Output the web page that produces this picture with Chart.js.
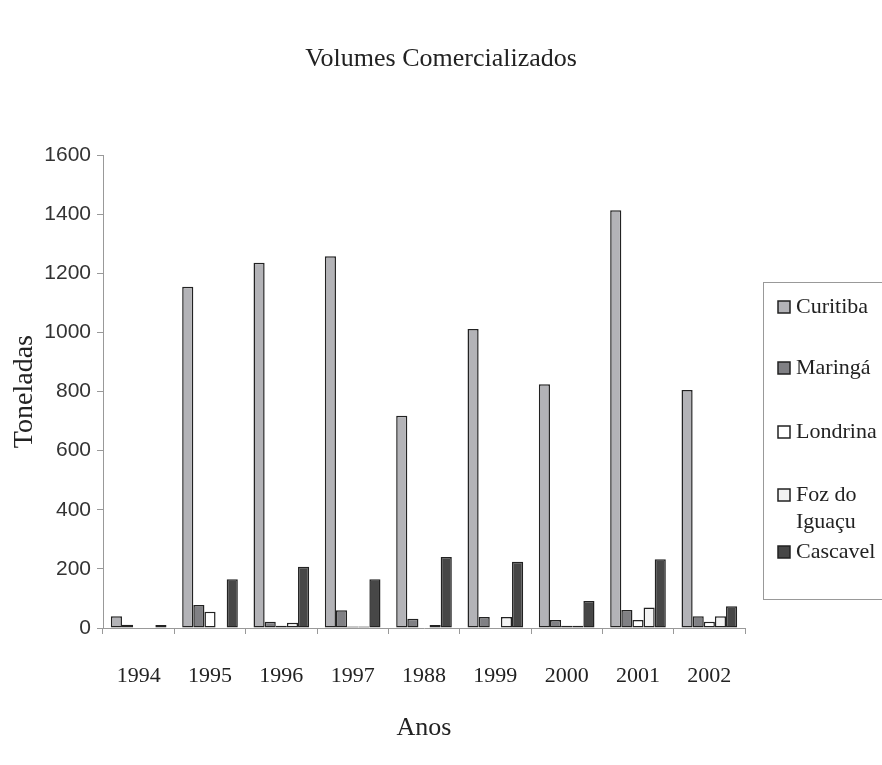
<!DOCTYPE html>
<html>
<head>
<meta charset="utf-8">
<script src="https://cdn.jsdelivr.net/npm/chart.js@4.4.0/dist/chart.umd.min.js"></script>
<style>
    html, body { margin: 0; padding: 0; background: #fff; }
    #wrap { width: 882px; height: 765px; }
</style>
</head>
<body>
<div id="wrap"><canvas id="volChart" width="882" height="765"></canvas></div>
<script>
// dados (toneladas)
const anos = ['1994', '1995', '1996', '1997', '1988', '1999', '2000', '2001', '2002'];
const curitiba = [40, 1155, 1236, 1258, 718, 1012, 825, 1414, 805];
const maringa = [11, 78, 21, 60, 31, 37, 27, 61, 40];
const londrina = [0, 55, 8, 5, 0, 0, 8, 27, 21];
const fozDoIguacu = [0, 0, 18, 5, 10, 37, 8, 69, 40];
const cascavel = [10, 165, 207, 165, 240, 224, 91, 233, 74];
const yTicks = [0, 200, 400, 600, 800, 1000, 1200, 1400, 1600];

const serif = "'Liberation Serif', 'Times New Roman', serif";
const sans = "'Liberation Sans', Arial, sans-serif";

function serie(label, data, cor) {
    return {
        label: label,
        data: data,
        backgroundColor: cor,
        borderColor: '#222',
        borderWidth: 1.5,
        borderSkipped: false,
        barPercentage: 1,
        categoryPercentage: 0.78
    };
}

// legenda desenhada no canvas, com quebra de linha como no original
const legendaCaixa = {
    id: 'legendaCaixa',
    afterDraw(chart) {
        const ctx = chart.ctx;
        const box = { x: 763.5, y: 282.5, w: 130, h: 317 };
        const itemY = [307, 368, 432, 495, 552];
        ctx.save();
        ctx.strokeStyle = '#999';
        ctx.lineWidth = 1;
        ctx.strokeRect(box.x, box.y, box.w, box.h);
        ctx.font = '22px ' + serif;
        ctx.textBaseline = 'middle';
        chart.data.datasets.forEach((ds, i) => {
            const y = itemY[i];
            ctx.fillStyle = ds.backgroundColor;
            ctx.fillRect(778, y - 6, 12, 12);
            ctx.strokeStyle = '#222';
            ctx.lineWidth = 1.5;
            ctx.strokeRect(778, y - 6, 12, 12);
            ctx.fillStyle = '#222';
            // quebra simples por largura
            const words = ds.label.split(' ');
            let line = '';
            let ly = y;
            words.forEach(w => {
                const test = line ? line + ' ' + w : w;
                if (ctx.measureText(test).width > 80 && line) {
                    ctx.fillText(line, 796, ly);
                    line = w;
                    ly += 27;
                } else {
                    line = test;
                }
            });
            ctx.fillText(line, 796, ly);
        });
        ctx.restore();
    }
};

new Chart(document.getElementById('volChart'), {
    type: 'bar',
    data: {
        labels: anos,
        datasets: [
            serie('Curitiba', curitiba, '#b3b3b7'),
            serie('Maringá', maringa, '#808084'),
            serie('Londrina', londrina, '#ffffff'),
            serie('Foz do Iguaçu', fozDoIguacu, '#f3f3f3'),
            serie('Cascavel', cascavel, '#474747')
        ]
    },
    options: {
        responsive: false,
        animation: false,
        layout: { padding: 0 },
        plugins: {
            legend: { display: false },
            tooltip: { enabled: false },
            title: {
                display: true,
                text: 'Volumes Comercializados',
                color: '#222',
                font: { family: serif, size: 26, weight: 'normal' },
                padding: { top: 44, bottom: 80 }
            }
        },
        scales: {
            x: {
                grid: { drawOnChartArea: false, drawTicks: true, tickLength: 6, color: '#999' },
                border: { color: '#999', width: 1 },
                ticks: { color: '#222', font: { family: serif, size: 22 }, padding: 29, maxRotation: 0 },
                title: {
                    display: true,
                    text: 'Anos',
                    color: '#222',
                    font: { family: serif, size: 26 },
                    padding: { top: 0, bottom: 21 }
                },
                afterFit(scale) { scale.height = 137; }
            },
            y: {
                min: 0,
                max: 1600,
                afterBuildTicks(scale) { scale.ticks = yTicks.map(v => ({ value: v })); },
                grid: { drawOnChartArea: false, drawTicks: true, tickLength: 6, color: '#999' },
                border: { color: '#999', width: 1 },
                ticks: {
                    color: '#333',
                    font: { family: sans, size: 21 },
                    padding: 6,
                    callback: (v) => String(v)
                },
                title: {
                    display: true,
                    text: 'Toneladas',
                    color: '#222',
                    font: { family: serif, size: 28 },
                    padding: { top: 8, bottom: 0 }
                },
                afterFit(scale) { scale.width = 103; }
            },
            // eixo vazio à direita só para reservar espaço da legenda
            espaco: {
                type: 'linear',
                position: 'right',
                grid: { display: false },
                border: { display: false },
                ticks: { display: false },
                afterFit(scale) { scale.width = 137; }
            }
        }
    },
    plugins: [legendaCaixa]
});
</script>
</body>
</html>
